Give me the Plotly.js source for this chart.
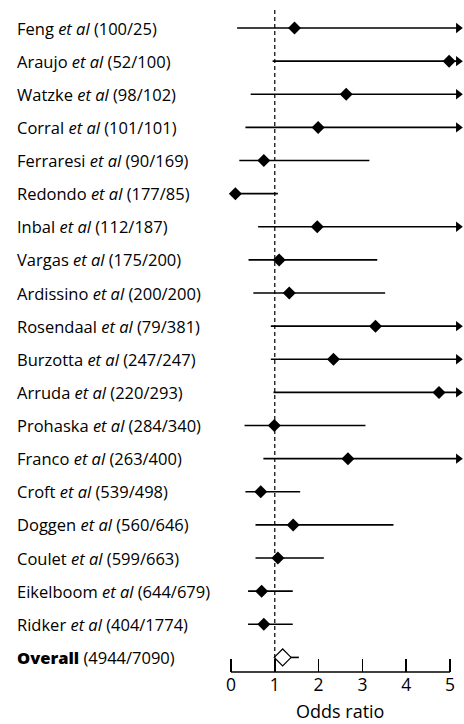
<!DOCTYPE html>
<html><head><meta charset="utf-8">
<script src="https://cdn.plot.ly/plotly-3.0.1.min.js"></script>
<style>html,body{margin:0;padding:0;background:#fff}</style></head>
<body>
<div id="chart" style="width:464px;height:724px"></div>
<script>
// ---- data ----
const authors  = ["Feng","Araujo","Watzke","Corral","Ferraresi","Redondo","Inbal","Vargas","Ardissino","Rosendaal","Burzotta","Arruda","Prohaska","Franco","Croft","Doggen","Coulet","Eikelboom","Ridker"];
const cases    = [100,52,98,101,90,177,112,175,200,79,247,220,284,263,539,560,599,644,404];
const controls = [25,100,102,101,169,85,187,200,200,381,247,293,340,400,498,646,663,679,1774];
const oddsRatio = [1.45,4.98,2.63,1.99,0.75,0.10,1.97,1.10,1.33,3.30,2.34,4.75,0.99,2.67,0.68,1.42,1.07,0.70,0.75];
const ciLow     = [0.14,0.95,0.45,0.33,0.19,0.08,0.62,0.40,0.51,0.91,0.91,0.97,0.31,0.74,0.33,0.56,0.56,0.39,0.39];
// null = upper limit beyond the axis (drawn as an arrow)
const ciHigh    = [null,null,null,null,3.16,1.07,null,3.34,3.52,null,null,null,3.07,null,1.58,3.71,2.12,1.41,1.41];
const overallLabel = {cases:4944, controls:7090};
const overallOR = 1.18, overallLow = 1.03, overallHigh = 1.55;
const tickVals = [0,1,2,3,4,5];

// ---- drawing ----
const FONT = "'Open Sans', sans-serif";
const ARROW_X = 5.19;
const n = authors.length;
const lx = [], ly = [], ax = [], ay = [];
for (let i = 0; i < n; i++) {
  const hi = ciHigh[i] === null ? ARROW_X : ciHigh[i];
  lx.push(ciLow[i], hi, null); ly.push(i, i, null);
  if (ciHigh[i] === null) { ax.push(ARROW_X); ay.push(i); }
}
lx.push(overallLow, overallHigh, null); ly.push(n, n, null);

const traces = [
  {type:'scatter', mode:'lines', x:lx, y:ly, line:{color:'#000', width:1.6}, hoverinfo:'skip', cliponaxis:false},
  {type:'scatter', mode:'markers', x:ax, y:ay, marker:{symbol:'triangle-right', size:9, color:'#000'}, cliponaxis:false},
  {type:'scatter', mode:'markers', x:oddsRatio, y:authors.map((_, i) => i),
   marker:{symbol:'diamond', size:10, color:'#000'}, cliponaxis:false},
  {type:'scatter', mode:'markers', x:[overallOR], y:[n],
   marker:{symbol:'diamond', size:13, color:'#fff', line:{color:'#000', width:1.2}}, cliponaxis:false}
];

const annotations = authors.map((a, i) => ({
  xref:'paper', yref:'y', x:-0.855, y:i, xanchor:'left', yanchor:'middle', showarrow:false,
  text: a + ' <i>et al</i> (' + cases[i] + '/' + controls[i] + ')',
  font:{family:FONT, size:16.5, color:'#000'}
}));
annotations.push({
  xref:'paper', yref:'y', x:-0.855, y:n, xanchor:'left', yanchor:'middle', showarrow:false,
  text:'<span style="font-weight:800">Overall</span> (' + overallLabel.cases + '/' + overallLabel.controls + ')',
  font:{family:FONT, size:16.5, color:'#000'}
});
annotations.push({
  xref:'x', yref:'paper', x:2.5, y:0, xanchor:'center', yanchor:'middle', yshift:-39, showarrow:false,
  borderpad:0, text:'Odds ratio', font:{family:FONT, size:18, color:'#000'}
});

const layout = {
  width:464, height:724, margin:{l:222, r:0, t:10, b:52},
  paper_bgcolor:'#fff', plot_bgcolor:'#fff', showlegend:false,
  xaxis:{range:[-0.205,5.32], tickvals:tickVals, ticktext:tickVals.map(String), ticks:'inside', ticklen:13, tickwidth:1.5,
         tickcolor:'#000', showline:false, showgrid:false, zeroline:false, fixedrange:true,
         tickfont:{family:FONT, size:17.5, color:'#000'}},
  yaxis:{range:[19.44,-0.544], visible:false, fixedrange:true},
  shapes:[
    {type:'line', xref:'x', yref:'paper', x0:1, x1:1, y0:0, y1:1, line:{color:'#000', width:1.2, dash:'4px,3px'}},
    {type:'line', xref:'x', yref:'paper', x0:0, x1:5, y0:0, y1:0, line:{color:'#000', width:1.5}}
  ],
  annotations:annotations
};
Plotly.newPlot('chart', traces, layout, {displayModeBar:false, staticPlot:true});
</script>
</body></html>
